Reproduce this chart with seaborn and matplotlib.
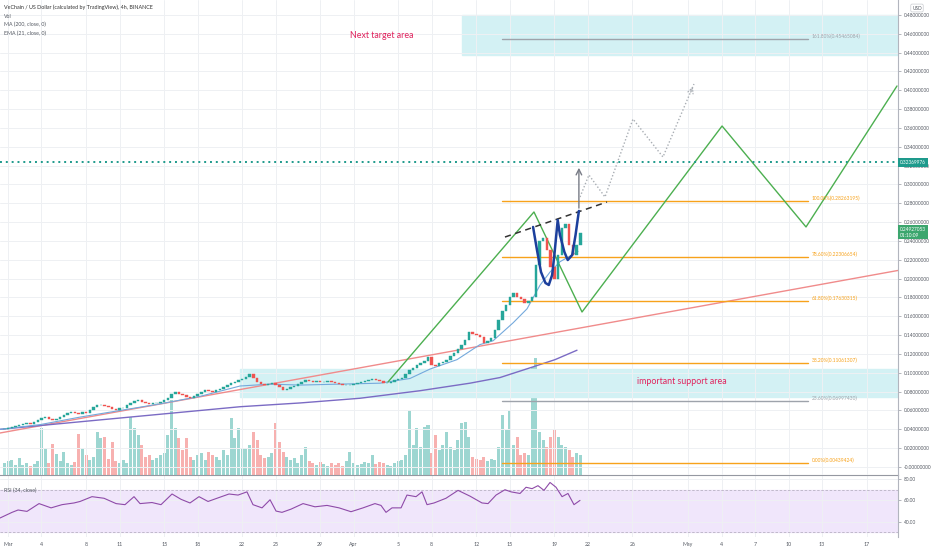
import numpy as np
import pandas as pd
import matplotlib
matplotlib.use("Agg")
import matplotlib.pyplot as plt
import seaborn as sns

sns.set_style("white")
plt.rcParams['font.family'] = ['Lato', 'DejaVu Sans']

# ---- data (x = days since 1 Mar, 8h candles) ----
tick_days = [0, 3, 7, 10, 14, 17, 21, 24, 28, 31, 35, 38, 42, 45, 49, 52, 56, 61, 64, 67, 70, 73, 77]
tick_labels = ["Mar", "4", "8", "11", "15", "18", "22", "25", "29", "Apr", "5", "8", "12", "15",
               "19", "22", "26", "May", "4", "7", "10", "13", "17"]

closes = [0.040, 0.041,
          0.042, 0.044, 0.045,  0.046, 0.047, 0.046,  0.048, 0.050, 0.052,  0.053, 0.051, 0.050,
          0.051, 0.053, 0.055,  0.057, 0.058, 0.057,  0.056, 0.058, 0.057,  0.060, 0.064, 0.066,
          0.066, 0.065, 0.064,  0.062, 0.061, 0.063,  0.063, 0.066, 0.068,  0.070, 0.071, 0.069,
          0.068, 0.067, 0.068,  0.068, 0.069, 0.071,  0.073, 0.078, 0.080,  0.078, 0.076, 0.074,
          0.073, 0.075, 0.077,  0.080, 0.082, 0.081,  0.080, 0.082, 0.083,  0.085, 0.087, 0.089,
          0.090, 0.092, 0.093,  0.096, 0.099, 0.094,  0.090, 0.088, 0.087,  0.088, 0.089, 0.087,
          0.085, 0.082, 0.083,  0.085, 0.086, 0.088,  0.090, 0.092, 0.091,  0.090, 0.091, 0.090,
          0.090, 0.091, 0.090,  0.089, 0.088, 0.087,  0.087, 0.087, 0.088,  0.089, 0.090, 0.091,
          0.092, 0.093, 0.092,  0.091, 0.089, 0.089,  0.090, 0.092, 0.093,  0.094, 0.099, 0.103,
          0.105, 0.108, 0.110,  0.113, 0.117, 0.108,  0.107, 0.110, 0.111,  0.114, 0.118, 0.121,
          0.125, 0.130, 0.135,  0.143, 0.141, 0.140,  0.138, 0.132, 0.134,  0.137, 0.145, 0.156,
          0.166, 0.172, 0.180,  0.185, 0.181, 0.178,  0.174, 0.176, 0.180,  0.215, 0.240, 0.243,
          0.230, 0.212, 0.200,  0.225, 0.254, 0.258,  0.236, 0.225, 0.236,  0.249]

volumes = [12, 14,
           15, 10, 17,  10, 12, 9,  11, 14, 47,  27, 12, 31,  21, 14, 23,  12, 10, 13,
           41, 27, 20,  15, 18, 43,  37, 38, 16,  33, 14, 12,  15, 12, 58,  47, 40, 30,
           18, 20, 15,  17, 20, 22,  40, 75, 47,  37, 25, 37,  18, 15, 20,  22, 15, 23,
           20, 18, 15,  25, 20, 57,  37, 47, 27,  27, 30, 43,  35, 20, 17,  18, 22, 52,
           33, 23, 18,  15, 17, 12,  20, 28, 14,  12, 10, 13,  11, 9, 12,  10, 12, 9,
           14, 23, 12,  10, 11, 13,  12, 20, 11,  13, 12, 10,  9, 12, 14,  15, 20, 65,
           30, 47, 28,  48, 50, 22,  40, 25, 30,  43, 28, 25,  35, 52, 53,  38, 18, 16,
           15, 18, 14,  16, 15, 28,  60, 45, 65,  30, 38, 20,  22, 20, 108,  117, 43, 35,
           28, 38, 45,  38, 30, 28,  25, 18, 22,  20]

ema_days = [-0.72, 2.87, 6.46, 10.04, 13.63, 17.22, 20.81, 23.5, 26.19, 29.78, 33.36, 36.05,
            37.85, 40.27, 42.33, 43.5, 45.29, 46.55, 47.71, 48.61, 49.51, 50.4, 51.12]
ema_vals = [0.040, 0.045, 0.053, 0.060, 0.067, 0.075, 0.086, 0.088, 0.087, 0.088, 0.089, 0.094,
            0.104, 0.114, 0.130, 0.134, 0.153, 0.168, 0.193, 0.207, 0.218, 0.224, 0.229]

ma_days = [-0.72, 10.04, 20.81, 26.19, 31.57, 36.95, 41.43, 44.13, 47.0, 49.06, 51.03]
ma_vals = [0.040, 0.052, 0.064, 0.068, 0.073, 0.081, 0.089, 0.095, 0.106, 0.114, 0.124]

rsi_days = [-0.72, 0.36, 0.90, 1.70, 2.78, 3.86, 4.84, 5.92, 6.46, 7.53, 8.61, 9.69, 10.49, 11.30,
            11.84, 12.91, 13.72, 14.71, 15.52, 16.32, 17.13, 17.94, 18.74, 19.82, 20.63, 21.43,
            21.97, 22.78, 23.50, 24.04, 24.57, 25.38, 26.46, 27.53, 28.61, 29.69, 30.76, 31.84,
            32.91, 33.45, 33.90, 34.44, 35.25, 35.78, 36.59, 37.13, 37.58, 38.21, 39.28, 40.36,
            41.43, 42.51, 43.05, 43.77, 44.57, 45.11, 45.92, 46.46, 47.0, 47.53, 48.07, 48.61,
            49.15, 49.69, 50.22, 50.76, 51.3]
rsi_vals = [43.5, 48.8, 51, 49.7, 57, 53, 56, 57.6, 59, 63.5, 62, 57, 56, 63.5, 57, 58, 56, 66,
            61, 57.6, 63.5, 59, 62, 66, 65, 68, 56, 53, 60.6, 50, 48.8, 51.8, 57, 54, 55.3, 53,
            49.4, 53, 57, 55.3, 48.8, 53, 53, 65, 63.5, 68, 56, 57.6, 62, 69.4, 64, 57.6, 57,
            65, 70, 68, 66.5, 72.3, 71, 73.8, 69.4, 76.8, 72.3, 63.5, 66.5, 56, 60]

trend_days = [-0.72, 79.82]
trend_vals = [0.0361, 0.2087]

zigzag_days = [34.08, 47.17, 51.48, 64.04, 71.57, 79.73]
zigzag_vals = [0.0903, 0.2708, 0.1646, 0.3621, 0.2549, 0.4046]

path_days = [51.3, 52.1, 53.54, 56.05, 58.74, 61.52]
path_vals = [0.2867, 0.3101, 0.2867, 0.3695, 0.3292, 0.4067]

w_days = [47.09, 47.44, 47.8, 48.2, 48.5, 48.8, 49.0, 49.3, 49.5, 49.9, 50.2, 50.6, 50.9, 51.2]
w_vals = [0.2549, 0.2304, 0.2071, 0.1954, 0.1933, 0.2039, 0.2251, 0.2623, 0.2464, 0.2283,
          0.2198, 0.2251, 0.2464, 0.2719]

neck_days = [44.57, 53.72]
neck_vals = [0.2442, 0.2814]

fib_ratios = ["161.80%", "100.00%", "78.60%", "61.80%", "38.20%", "23.60%", "0.00%"]
fib_prices = [0.45465084, 0.28263195, 0.22306654, 0.17630315, 0.11061307, 0.06997430, 0.00439424]
fib_start, fib_end = 44.3, 71.75

target_zone = (40.7, 0.4375, 0.480)
support_zone = (20.8, 0.0743, 0.104)
last_price = 0.24927053
mark_price = 0.32369976

# ---- figure ----
W, H = 932, 550
fig = plt.figure(figsize=(W / 100, H / 100), dpi=100)
ax = fig.add_axes([0, 75 / H, 898 / W, 475 / H])
rax = fig.add_axes([0, 13 / H, 898 / W, 62 / H])
vax = ax.twinx()
ax.set_zorder(vax.get_zorder() + 1)
ax.patch.set_visible(False)

xmin, xmax = -0.72, 79.82
green, red = '#26a69a', '#ef5350'
grid_c = '#eef0f3'
axis_fs = 3.4
txt_c = '#555a63'

cdays = pd.date_range('2021-02-28 16:00', periods=len(closes), freq='8h')
cx = np.asarray((cdays - pd.Timestamp('2021-03-01')) / pd.Timedelta('1D'))
c = np.array(closes)
o = np.r_[c[0], c[:-1]]
up = c >= o
ccol = np.where(up, green, red)

# volume
vax.bar(cx, volumes, width=0.27, color=ccol, alpha=0.45, linewidth=0)
vax.set_ylim(0, 475)
vax.axis('off')

# zones
for d0, lo, hi in [target_zone, support_zone]:
    ax.axhspan(lo, hi, xmin=(d0 - xmin) / (xmax - xmin), xmax=1, color='#d3f1f4', zorder=0)

# trend line, MAs
sns.lineplot(x=trend_days, y=trend_vals, ax=ax, color='#f08b8b', lw=1)
sns.lineplot(x=ma_days, y=ma_vals, ax=ax, color='#7b6bc4', lw=1)
sns.lineplot(x=ema_days, y=ema_vals, ax=ax, color='#74a9dc', lw=0.8)

# candles
ax.bar(cx, c - o, bottom=o, width=0.22, color=ccol, edgecolor=ccol, linewidth=0.3, zorder=3)

# fib levels
for r, p in zip(fib_ratios, fib_prices):
    col = '#9ea3ab' if r in ("161.80%", "23.60%") else '#f7a21b'
    ax.plot([fib_start, fib_end], [p, p], color=col, lw=1, zorder=2)
    ax.text(fib_end + 0.35, p + 0.003, f"{r}({p:.8f})", color=col, fontsize=3.5,
            va='center', ha='left')

# projections
sns.lineplot(x=zigzag_days, y=zigzag_vals, ax=ax, color='#4caf50', lw=1)
ax.plot(path_days, path_vals, color='#a9aeb4', lw=1, ls=(0, (1, 1.5)), zorder=4)
ax.annotate('', xy=(path_days[-1], path_vals[-1]), xytext=(path_days[-2] + 2.4, path_vals[-2] + 0.066),
            arrowprops=dict(arrowstyle='->', color='#a9aeb4', lw=0.8, ls=':'))
ax.annotate('', xy=(51.2, 0.3207), xytext=(51.2, 0.272),
            arrowprops=dict(arrowstyle='->', color='#787b86', lw=1))
ax.plot(neck_days, neck_vals, color='#333333', lw=1.1, ls=(0, (4, 3)), zorder=5)
ax.plot(w_days, w_vals, color='#1c3f9c', lw=1.8, zorder=6, solid_capstyle='round')
ax.axhline(mark_price, color='#1e9a8c', lw=1.4, ls=(0, (1, 2)), zorder=4)

ax.text(33.5, 0.4587, "Next target area", color='#e0245e', fontsize=6.4, ha='center', va='center')
ax.text(60.45, 0.0913, "important support area", color='#e0245e', fontsize=6.4, ha='center', va='center')

# main axis styling
ax.set_xlim(xmin, xmax)
ax.set_ylim(-0.0085, 0.4959)
yt = np.round(np.arange(0, 0.481, 0.02), 2)
ax.set_yticks(yt)
ax.set_yticklabels(['-0.00000000' if v == 0 else f"{v:.8f}" for v in yt])
ax.yaxis.tick_right()
ax.tick_params(axis='y', length=2.5, width=0.5, color='#9598a1', labelsize=axis_fs, labelcolor=txt_c, pad=1.5)
ax.set_xticks(tick_days)
ax.tick_params(axis='x', length=0, labelbottom=False)
ax.grid(True, color=grid_c, lw=0.7)
for s in ['top', 'left', 'bottom']:
    ax.spines[s].set_visible(False)
ax.spines['right'].set_color('#b2b5be')
ax.spines['right'].set_linewidth(0.8)

# price tags
ax.text(1.002, mark_price, f"{mark_price:.8f}", transform=ax.get_yaxis_transform(), color='white',
        fontsize=axis_fs, va='center', ha='left', clip_on=False,
        bbox=dict(boxstyle='square,pad=0.4', fc='#1e9a8c', ec='none'))
ax.text(1.002, last_price, f"{last_price:.8f}\n01:10:09", transform=ax.get_yaxis_transform(), color='white',
        fontsize=axis_fs, va='center', ha='left', clip_on=False, linespacing=1.15,
        bbox=dict(boxstyle='square,pad=0.4', fc='#3ca66e', ec='none'))

# RSI pane
rax.axhspan(30, 70, color='#f0e6fb', zorder=0)
rax.axhline(70, color='#b9b2c4', lw=0.6, ls=(0, (3, 2)))
rax.axhline(30, color='#b9b2c4', lw=0.6, ls=(0, (3, 2)))
sns.lineplot(x=rsi_days, y=rsi_vals, ax=rax, color='#8e4ba8', lw=0.8)
rax.set_xlim(xmin, xmax)
rax.set_ylim(25.7, 83.8)
rax.set_yticks([40, 60, 80])
rax.set_yticklabels(["40.00", "60.00", "80.00"])
rax.yaxis.tick_right()
rax.tick_params(axis='y', length=2.5, width=0.5, color='#9598a1', labelsize=axis_fs, labelcolor=txt_c, pad=1.5)
rax.set_xticks(tick_days)
rax.set_xticklabels(tick_labels)
rax.tick_params(axis='x', length=2, width=0.5, color='#9598a1', labelsize=3.8, labelcolor=txt_c, pad=1.5)
rax.grid(True, color=grid_c, lw=0.7)
rax.set_xlabel('')
rax.set_ylabel('')
ax.set_xlabel('')
ax.set_ylabel('')
for s in ['left', 'bottom']:
    rax.spines[s].set_visible(False)
rax.spines['top'].set_color('#9598a1')
rax.spines['top'].set_linewidth(0.8)
rax.spines['right'].set_color('#b2b5be')
rax.spines['right'].set_linewidth(0.8)
rax.text(0.004, 0.73, "RSI (34, close)", transform=rax.transAxes, fontsize=3.8, color=txt_c)

# legend header
fig.text(4 / W, 1 - 7 / H, "VeChain / US Dollar (calculated by TradingView), 4h, BINANCE",
         fontsize=3.9, color='#333', va='center')
for i, t in enumerate(["Vol", "MA (200, close, 0)", "EMA (21, close, 0)"]):
    fig.text(4 / W, 1 - (16 + 8.5 * i) / H, t, fontsize=3.8, color=txt_c, va='center')
fig.text(917 / W, 1 - 8 / H, "USD", fontsize=3.4, color=txt_c, ha='center', va='center',
         bbox=dict(boxstyle='round,pad=0.3', fc='white', ec='#c8cbd0', lw=0.5))

fig.savefig('out.png', dpi=100)
